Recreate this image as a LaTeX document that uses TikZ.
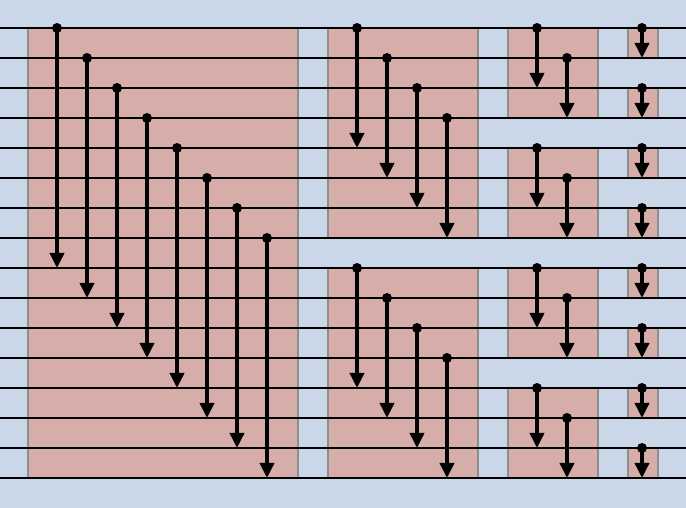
\documentclass[tikz,border=0pt]{standalone}
\usepackage{tikz}
\usepackage{xcolor}
\usetikzlibrary{arrows.meta}

\definecolor{wirebg}{HTML}{C9D7E9}
\definecolor{stagefill}{HTML}{D6ADA8}
\definecolor{stageedge}{HTML}{8E8E8E}

\begin{document}
\begin{tikzpicture}[
        x=0.03cm, y=-0.03cm,
        declare function={
            wy(\k) = 28 + 30 * \k;
            W = 686;
            H = 508;
        },
        stage/.style={fill=stagefill, draw=stageedge, line width=0.075cm},
        wire/.style={line width=0.068cm},
        comparator/.style={line width=0.105cm, -{Triangle[length=0.45cm, width=0.42cm]}},
        pin/.style={fill=black}
    ]

        \useasboundingbox (0, 0) rectangle (W, H);
        \fill[wirebg] (0, 0) rectangle (W, H);

        % stages
        \draw[stage] (28, {wy(0)}) rectangle (298, {wy(15)});
        \foreach \g in {0,1} {
            \draw[stage] (328, {wy(8*\g)}) rectangle (478, {wy(8*\g+7)});
        }
        \foreach \g in {0,...,3} {
            \draw[stage] (508, {wy(4*\g)}) rectangle (598, {wy(4*\g+3)});
        }
        \foreach \g in {0,...,7} {
            \draw[stage] (628, {wy(2*\g)}) rectangle (658, {wy(2*\g+1)});
        }

        % wires
        \foreach \k in {0,...,15} {
            \coordinate (wl\k) at (0, {wy(\k)});
            \coordinate (wr\k) at (W, {wy(\k)});
            \draw[wire] (wl\k) -- (wr\k);
        }

        % stage 1
        \foreach \i in {0,...,7} {
            \coordinate (top1-\i) at (57 + 30 * \i, {wy(\i)});
            \coordinate (bot1-\i) at (57 + 30 * \i, {wy(\i+8)});
            \draw[comparator] (top1-\i) -- (bot1-\i);
            \fill[pin] (top1-\i) circle (0.15cm);
        }

        % stage 2
        \foreach \g in {0,1} {
            \foreach \i in {0,...,3} {
                \coordinate (top2-\g-\i) at (357 + 30 * \i, {wy(8*\g+\i)});
                \coordinate (bot2-\g-\i) at (357 + 30 * \i, {wy(8*\g+\i+4)});
                \draw[comparator] (top2-\g-\i) -- (bot2-\g-\i);
                \fill[pin] (top2-\g-\i) circle (0.15cm);
            }
        }

        % stage 3
        \foreach \g in {0,...,3} {
            \foreach \i in {0,1} {
                \coordinate (top3-\g-\i) at (537 + 30 * \i, {wy(4*\g+\i)});
                \coordinate (bot3-\g-\i) at (537 + 30 * \i, {wy(4*\g+\i+2)});
                \draw[comparator] (top3-\g-\i) -- (bot3-\g-\i);
                \fill[pin] (top3-\g-\i) circle (0.15cm);
            }
        }

        % stage 4
        \foreach \g in {0,...,7} {
            \coordinate (top4-\g) at (642, {wy(2*\g)});
            \coordinate (bot4-\g) at (642, {wy(2*\g+1)});
            \draw[comparator] (top4-\g) -- (bot4-\g);
            \fill[pin] (top4-\g) circle (0.15cm);
        }
    \end{tikzpicture}
\end{document}
